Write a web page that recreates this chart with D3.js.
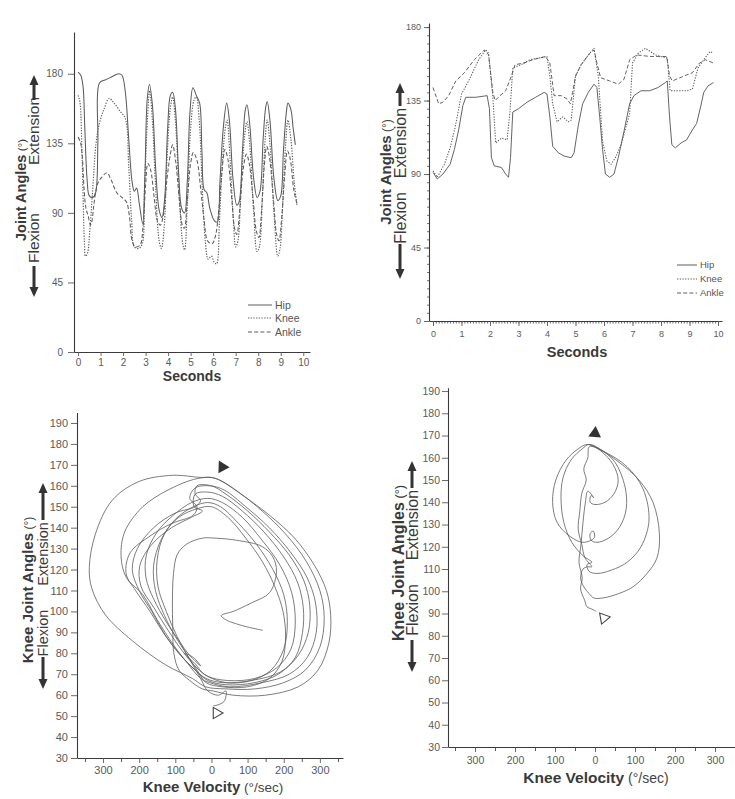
<!DOCTYPE html>
<html>
<head>
<meta charset="utf-8">
<script src="https://cdn.jsdelivr.net/npm/d3@7"></script>
<style>
  body { margin: 0; background: #fff; }
  svg { display: block; }
  text { font-family: "Liberation Sans", Arial, Helvetica, sans-serif; }
</style>
</head>
<body>
<svg id="fig" width="735" height="799"></svg>
<script>
// ---------- tick labels ----------
const secondTicks = [0, 1, 2, 3, 4, 5, 6, 7, 8, 9, 10];
const angleTicks = [0, 45, 90, 135, 180];
const kneeAngleTicks = [30, 40, 50, 60, 70, 80, 90, 100, 110, 120, 130, 140, 150, 160, 170, 180, 190];
const velocityTicks = [-300, -200, -100, 0, 100, 200, 300];
const velocityMinorTicks = [-350, -250, -150, -50, 50, 150, 250, 350];
const legendLabels = ["Hip", "Knee", "Ankle"];

// ---------- joint angles over time, left trial: [seconds, degrees] ----------
const leftHip = [
  [0,181],[0.12,179],[0.22,172],[0.3,145],[0.4,112],[0.5,101],[0.65,100],[0.78,103],[0.88,135],[0.95,174],
  [1.2,176],[1.5,178],[1.8,180],[1.95,179],[2.1,168],[2.25,138],[2.4,110],[2.5,104],[2.6,106],[2.72,96],
  [2.87,83],[2.97,115],[3.07,163],[3.17,173],[3.3,160],[3.45,118],[3.6,92],[3.73,87],[3.85,100],[3.98,145],
  [4.1,166],[4.2,168],[4.32,158],[4.47,115],[4.6,93],[4.73,90],[4.85,110],[4.97,155],[5.1,171],[5.25,166],
  [5.4,161],[5.5,130],[5.6,105],[5.72,103],[5.85,93],[6.05,85],[6.18,84],[6.3,110],[6.45,145],[6.6,161],
  [6.72,150],[6.88,112],[7.05,95],[7.15,97],[7.3,130],[7.42,156],[7.5,160],[7.62,148],[7.8,112],[7.95,100],
  [8.08,104],[8.22,138],[8.33,158],[8.4,162],[8.52,150],[8.7,112],[8.87,98],[9.0,101],[9.12,130],[9.25,155],
  [9.32,161],[9.45,157],[9.55,145],[9.65,134]
];
const leftKnee = [
  [0,166],[0.08,162],[0.18,125],[0.28,72],[0.33,62],[0.42,64],[0.52,78],[0.65,105],[0.8,135],[0.95,148],
  [1.15,157],[1.38,164],[1.6,161],[1.85,156],[2.1,151],[2.25,120],[2.38,85],[2.5,68],[2.7,67],[2.85,70],
  [2.95,105],[3.08,150],[3.18,169],[3.3,150],[3.45,105],[3.6,72],[3.7,67],[3.82,80],[3.95,125],[4.1,158],
  [4.2,165],[4.32,150],[4.5,100],[4.65,70],[4.73,66],[4.85,95],[5.0,145],[5.15,163],[5.25,165],[5.38,150],
  [5.52,105],[5.65,72],[5.78,60],[5.92,62],[6.05,58],[6.15,57],[6.28,85],[6.42,125],[6.55,146],[6.62,150],
  [6.75,125],[6.9,85],[7.0,68],[7.1,72],[7.25,110],[7.4,140],[7.5,149],[7.62,135],[7.8,90],[7.95,65],
  [8.05,68],[8.2,105],[8.32,140],[8.4,150],[8.52,135],[8.7,90],[8.87,62],[8.97,67],[9.1,100],[9.22,135],
  [9.32,150],[9.45,138],[9.6,110],[9.72,95]
];
const leftAnkle = [
  [0,139],[0.1,136],[0.18,128],[0.27,105],[0.35,93],[0.45,88],[0.55,82],[0.62,85],[0.7,95],[0.8,105],
  [0.9,110],[1.05,113],[1.28,116],[1.45,112],[1.72,103],[1.95,100],[2.15,97],[2.28,88],[2.4,72],[2.55,68],
  [2.75,69],[2.88,80],[3.0,108],[3.1,122],[3.22,118],[3.38,100],[3.52,85],[3.65,82],[3.78,88],[3.95,112],
  [4.1,128],[4.2,134],[4.33,124],[4.5,98],[4.63,82],[4.72,80],[4.85,98],[5.0,122],[5.12,129],[5.28,124],
  [5.45,105],[5.6,85],[5.75,72],[5.95,70],[6.1,75],[6.25,92],[6.4,118],[6.52,131],[6.65,125],[6.82,100],
  [6.95,80],[7.05,76],[7.18,92],[7.33,118],[7.48,128],[7.6,122],[7.78,98],[7.92,78],[8.03,74],[8.15,92],
  [8.28,122],[8.38,133],[8.5,126],[8.68,98],[8.82,76],[8.92,72],[9.05,88],[9.18,115],[9.3,130],[9.42,125],
  [9.58,105],[9.72,96]
];

// ---------- joint angles over time, right trial: [seconds, degrees] ----------
const rightHip = [
  [0,91],[0.15,87],[0.35,90],[0.6,96],[0.75,105],[0.9,117],[1.05,132],[1.15,137],[1.5,137],[1.9,138],
  [1.98,130],[2.05,100],[2.15,95],[2.4,94],[2.55,90],[2.65,88],[2.72,100],[2.8,128],[3.0,130],[3.3,134],
  [3.6,137],[3.9,140],[4.0,139],[4.1,125],[4.2,107],[4.4,103],[4.6,101],[4.85,100],[4.95,103],[5.1,120],
  [5.25,133],[5.45,140],[5.65,145],[5.75,143],[5.85,125],[5.95,105],[6.05,90],[6.2,88],[6.35,90],[6.5,100],
  [6.7,116],[6.9,133],[7.05,138],[7.3,141],[7.6,141],[7.9,143],[8.15,146],[8.22,147],[8.3,125],[8.38,108],
  [8.5,106],[8.7,109],[8.9,111],[9.1,117],[9.25,121],[9.4,132],[9.5,140],[9.65,144],[9.84,146]
];
const rightKnee = [
  [0,92],[0.15,88],[0.4,96],[0.6,106],[0.77,118],[1.0,139],[1.25,147],[1.6,160],[1.85,166],[1.95,164],
  [2.1,137],[2.2,109],[2.4,112],[2.6,111],[2.7,128],[2.8,155],[3.1,157],[3.4,160],[3.7,161],[4.0,162],
  [4.1,150],[4.2,133],[4.35,122],[4.55,125],[4.75,122],[4.85,123],[5.0,150],[5.2,157],[5.5,164],[5.65,167],
  [5.8,150],[5.95,110],[6.1,98],[6.25,96],[6.4,100],[6.6,108],[6.9,127],[7.0,158],[7.2,164],[7.45,167],
  [7.8,163],[8.0,162],[8.22,161],[8.32,141],[8.6,141],[8.9,141],[9.1,142],[9.3,155],[9.5,160],[9.72,165],
  [9.84,164]
];
const rightAnkle = [
  [0,143],[0.2,133],[0.35,134],[0.55,138],[0.8,147],[1.1,152],[1.45,160],[1.8,166],[1.95,163],[2.1,140],
  [2.18,135],[2.35,138],[2.55,141],[2.75,150],[2.88,157],[3.2,158],[3.5,160],[3.95,162],[4.1,158],[4.25,138],
  [4.5,138],[4.7,136],[4.82,133],[4.9,140],[5.0,150],[5.2,157],[5.5,164],[5.65,166],[5.75,158],[5.88,149],
  [6.2,147],[6.5,145],[6.7,148],[6.9,160],[7.15,163],[7.6,162],[7.9,162],[8.2,162],[8.3,150],[8.4,147],
  [8.8,150],[9.1,152],[9.35,158],[9.55,160],[9.84,158]
];

// ---------- knee phase plane, left trial: [velocity deg/s, knee angle deg] ----------
const leftPhaseStart = [
  [142,91],[90,93],[40,96],[27,98],[60,100],[110,104],[161,109],[180,119],[170,126],[140,131],[69,134],
  [10,135],[-25,135],[-70,132],[-95,127],[-105,118],[-108,105],[-107,92],[-104,80],[-90,72],[-60,67],
  [-25,63],[5,62]
];
const leftPhaseCycle1 = [
  [60,60],[150,60],[240,64],[295,72],[325,85],[330,98],[318,110],[285,122],[230,135],[160,146],[90,155],
  [30,162],[0,164],[-30,164],[-108,165],[-201,162],[-275,153],[-321,137],[-338,121],[-331,111],[-294,98.5],
  [-219,86],[-127,74.5],[-53,68],[-16,64]
];
const leftPhaseCycle2 = [
  [40,63],[120,63],[200,66],[260,72],[300,83],[312,97],[300,110],[262,124],[205,137],[140,148],[75,157],
  [20,163],[-5,164],[-50,163],[-120,158],[-190,150],[-240,138],[-250,126],[-235,116],[-190,108],[-150,96],
  [-105,84],[-65,75],[-30,68],[-5,66]
];
const leftPhaseCycle3 = [
  [50,64],[140,66],[215,70],[265,78],[290,90],[288,104],[265,116],[220,128],[160,140],[95,150],[35,158],
  [-5,160],[-45,159],[-60,154],[-40,150],[-50,146],[-110,142],[-170,136],[-225,128],[-236,118],[-210,110],
  [-170,100],[-130,89],[-90,80],[-45,72],[-15,68]
];
const leftPhaseCycle4 = [
  [30,66],[110,67],[190,71],[240,79],[268,90],[272,103],[255,115],[215,127],[160,138],[100,148],[40,156],
  [0,160],[-40,160],[-45,156],[-30,153],[-45,150],[-100,147],[-160,140],[-205,130],[-219,120],[-200,110],
  [-165,100],[-125,88],[-85,79],[-45,72],[-10,67]
];
const leftPhaseCycle5 = [
  [40,65],[120,66],[185,70],[232,78],[252,90],[254,102],[238,114],[200,126],[145,138],[85,148],[30,155],
  [-10,157],[-45,156],[-48,150],[-25,148],[-55,145],[-110,140],[-165,132],[-198,122],[-195,112],[-160,102],
  [-120,91],[-80,81],[-40,73],[-10,69]
];
const leftPhaseCycle6 = [
  [45,67],[120,68],[180,73],[220,82],[232,95],[222,109],[190,122],[140,134],[85,145],[30,152],[-10,154],
  [-55,152],[-105,146],[-150,138],[-180,127],[-181,116],[-160,106],[-125,95],[-90,86],[-60,79],[-30,74],
  [-50,78],[-75,80],[-45,75],[-20,70]
];
const leftPhaseCycle7 = [
  [40,66],[110,67],[165,72],[200,82],[210,95],[200,108],[170,120],[125,132],[75,142],[25,150],[-10,152],
  [-50,150],[-100,144],[-140,134],[-160,122],[-155,110],[-130,98],[-100,88],[-70,80],[-40,72],[-15,66]
];
const leftPhaseCycle8 = [
  [30,64],[100,64],[160,68],[195,76],[205,88],[198,100],[175,112],[140,124],[95,135],[45,145],[0,150],
  [-40,149],[-90,145],[-130,137],[-150,125],[-148,112],[-125,100],[-95,88],[-60,77],[-30,68],[-10,62],
  [20,60],[40,62],[35,57],[10,55],[5,55]
];
const leftPhaseStartMark = [30, 169];
const leftPhaseEndMark = [14, 51.5];

// ---------- knee phase plane, right trial: [velocity deg/s, knee angle deg] ----------
const rightPhaseOuter = [
  [-15,166],[10,164],[60,158],[110,150],[145,140],[161,126],[155,115],[130,108],[95,102],[60,99],[20,97],[-3,97],
  [-15,99],[-28,102],[-36,106],[-30,110],[-18,111],[-8,111]
];
const rightPhaseRise = [
  [-25,115],[-33,121],[-42,128],[-38,136],[-33,144],[-22,150],[-28,155],[-18,160],[-14,165]
];
const rightPhaseArc3 = [
  [20,163],[80,156],[120,146],[135,132],[115,120],[80,113],[41,109.5],[5,108],[-15,109],[-20,112],[-8,113],
  [-30,116],[-58,122],[-78,131],[-85,142],[-80,151],[-60,159],[-32,164],[-15,166]
];
const rightPhaseArc2 = [
  [12,164],[50,158],[75,147],[78,137],[62,129],[35,124],[5,122],[-10,123],[-12,126],[-4,127],[-2,124],
  [-30,122],[-65,125],[-95,131],[-106,140],[-98,150],[-72,159],[-42,164],[-18,166]
];
const rightPhaseArc1 = [
  [15,163],[45,157],[58,150],[48,144],[25,140],[0,139],[-12,140],[-10,143],[-3,142],
  [-18,145],[-24,140],[-30,131],[-35,121],[-40,113],[-32,106],[-36,101],[-26,96],[-20,93],[-8,92],[3,91]
];
const rightPhaseStartMark = [0, 171];
const rightPhaseEndMark = [22, 88];

// ---------- drawing ----------
const svg = d3.select("#fig");
const INK = "#3a3a3a";
const TICK_INK = "#5a5a5a";
const TRACE = "#5c5c5c";

const seriesStyle = {
  Hip:   { dash: null,        width: 1.0 },
  Knee:  { dash: "1.3,1.4",   width: 1.1 },
  Ankle: { dash: "4,2.2",     width: 1.0 }
};

function styleAxis(g, fontSize) {
  g.select(".domain").attr("stroke", INK).attr("stroke-width", 1.1);
  g.selectAll(".tick line").attr("stroke", TICK_INK).attr("stroke-width", 0.9);
  g.selectAll(".tick text").attr("fill", TICK_INK).attr("font-size", fontSize)
    .attr("font-family", "'Liberation Sans', Arial, sans-serif");
}

function arrow(g, x, yFrom, yTip) {
  const dir = yTip < yFrom ? -1 : 1;
  const headLen = 10, headHalf = 4.5;
  g.append("line")
    .attr("x1", x).attr("x2", x)
    .attr("y1", yFrom).attr("y2", yTip - dir * headLen + dir)
    .attr("stroke", "#333").attr("stroke-width", 3);
  g.append("path")
    .attr("d", `M${x - headHalf},${yTip - dir * headLen} L${x + headHalf},${yTip - dir * headLen} L${x},${yTip} Z`)
    .attr("fill", "#333");
}

function verticalText(g, x, y, parts, size) {
  const t = g.append("text")
    .attr("transform", `translate(${x},${y}) rotate(-90)`)
    .attr("text-anchor", "middle")
    .attr("dy", "0.35em")
    .attr("font-size", size)
    .attr("fill", INK);
  parts.forEach(p => {
    t.append("tspan").text(p.text)
      .attr("font-weight", p.bold ? "bold" : "normal")
      .attr("font-size", p.size || size);
  });
  return t;
}

function angleTitle(g, o) {
  verticalText(g, o.titleX, o.titleY, [
    { text: o.title, bold: true },
    { text: " (°)", bold: false, size: o.titleSize * 0.8 }
  ], o.titleSize);
  verticalText(g, o.dirX, o.extY, [{ text: "Extension" }], o.dirSize);
  verticalText(g, o.dirX, o.flexY, [{ text: "Flexion" }], o.dirSize);
  arrow(g, o.dirX, o.upFrom, o.upTip);
  arrow(g, o.dirX, o.downFrom, o.downTip);
}

function timePanel(p) {
  const g = svg.append("g");
  const x = d3.scaleLinear().domain(p.tDomain).range(p.xRange);
  const y = d3.scaleLinear().domain(p.vDomain).range(p.yRange);

  if (p.yMinor) {
    g.append("g").attr("transform", `translate(${p.xRange[0]},0)`)
      .call(d3.axisLeft(y).tickValues(d3.range(5, 181, 5)).tickSize(2).tickFormat(""))
      .call(a => { a.select(".domain").remove(); a.selectAll("line").attr("stroke", "#777"); });
  }
  if (p.xMinor) {
    g.append("g").attr("transform", `translate(0,${p.yRange[0]})`)
      .call(d3.axisBottom(x).tickValues(d3.range(0, 100.5, 1).map(d => d / 10)).tickSize(2.5).tickFormat(""))
      .call(a => { a.select(".domain").remove(); a.selectAll("line").attr("stroke", "#666"); });
  }

  g.append("g").attr("transform", `translate(${p.xRange[0]},0)`)
    .call(d3.axisLeft(y).tickValues(angleTicks).tickSize(p.yTick).tickPadding(p.yPad).tickSizeOuter(0))
    .call(a => styleAxis(a, p.tickFont));
  g.append("g").attr("transform", `translate(0,${p.yRange[0]})`)
    .call(d3.axisBottom(x).tickValues(secondTicks).tickSize(p.xTick).tickPadding(p.xPad).tickSizeOuter(0))
    .call(a => styleAxis(a, p.tickFont));

  const line = d3.line().x(d => x(d[0])).y(d => y(d[1])).curve(p.curve);
  p.series.forEach((s, i) => {
    const st = seriesStyle[legendLabels[i]];
    g.append("path").datum(s)
      .attr("d", line)
      .attr("fill", "none")
      .attr("stroke", TRACE)
      .attr("stroke-width", st.width * p.lineScale)
      .attr("stroke-dasharray", st.dash)
      .attr("stroke-linejoin", "round");
  });

  // legend
  legendLabels.forEach((name, i) => {
    const st = seriesStyle[name];
    const ly = p.legend.y[i];
    g.append("line")
      .attr("x1", p.legend.x0).attr("x2", p.legend.x1)
      .attr("y1", ly).attr("y2", ly)
      .attr("stroke", TRACE).attr("stroke-width", st.width)
      .attr("stroke-dasharray", st.dash);
    g.append("text")
      .attr("x", p.legend.x1 + 3).attr("y", ly).attr("dy", "0.35em")
      .attr("font-size", p.legend.font).attr("fill", "#555")
      .text(name);
  });

  g.append("text")
    .attr("x", p.secondsX).attr("y", p.secondsY)
    .attr("text-anchor", "middle")
    .attr("font-weight", "bold").attr("font-size", p.secondsFont)
    .attr("fill", INK).text("Seconds");

  angleTitle(g, p.title);
}

function phasePanel(p) {
  const g = svg.append("g");
  const x = d3.scaleLinear().domain(p.velDomain).range(p.xRange);
  const y = d3.scaleLinear().domain(p.angDomain).range(p.yRange);

  g.append("g").attr("transform", `translate(${p.xRange[0]},0)`)
    .call(d3.axisLeft(y).tickValues(kneeAngleTicks).tickSize(6).tickPadding(p.yPad).tickSizeOuter(0))
    .call(a => styleAxis(a, p.tickFont));
  g.append("g").attr("transform", `translate(0,${p.yRange[0]})`)
    .call(d3.axisBottom(x).tickValues(velocityMinorTicks).tickSize(4).tickFormat(""))
    .call(a => { a.select(".domain").remove(); a.selectAll("line").attr("stroke", TICK_INK); });
  g.append("g").attr("transform", `translate(0,${p.yRange[0]})`)
    .call(d3.axisBottom(x).tickValues(velocityTicks).tickSize(5).tickPadding(p.xPad)
      .tickFormat(d => Math.abs(d)).tickSizeOuter(0))
    .call(a => styleAxis(a, p.tickFont));

  const line = d3.line().x(d => x(d[0])).y(d => y(d[1])).curve(d3.curveCatmullRom.alpha(0.5));
  g.append("path").datum(p.trace)
    .attr("d", line)
    .attr("fill", "none")
    .attr("stroke", TRACE)
    .attr("stroke-width", 0.8)
    .attr("stroke-linejoin", "round");

  const tri = d3.symbol().type(d3.symbolTriangle);
  g.append("path")
    .attr("d", tri.size(p.startSize)())
    .attr("transform", `translate(${x(p.startMark[0])},${y(p.startMark[1])}) rotate(${p.startRot})`)
    .attr("fill", "#333");
  g.append("path")
    .attr("d", tri.size(p.endSize)())
    .attr("transform", `translate(${x(p.endMark[0])},${y(p.endMark[1])}) rotate(${p.endRot})`)
    .attr("fill", "#fff").attr("stroke", "#444").attr("stroke-width", 1.1);

  const xt = g.append("text")
    .attr("x", p.xTitleX).attr("y", p.xTitleY)
    .attr("text-anchor", "middle").attr("fill", INK);
  xt.append("tspan").text("Knee Velocity").attr("font-weight", "bold").attr("font-size", p.xTitleFont);
  xt.append("tspan").text(" (°/sec)").attr("font-size", p.xTitleFont - 1.5).attr("fill", "#444");

  angleTitle(g, p.title);
}

// top left: joint angles, first trial
timePanel({
  tDomain: [-0.18, 10.3], xRange: [74, 310],
  vDomain: [0, 207], yRange: [352, 32],
  series: [leftHip, leftKnee, leftAnkle],
  curve: d3.curveCatmullRom.alpha(0.5),
  lineScale: 1.05,
  yTick: 6, yPad: 5, xTick: 4, xPad: 3, tickFont: 10,
  legend: { x0: 248, x1: 272, y: [305, 318, 332], font: 10.5 },
  secondsX: 192, secondsY: 381, secondsFont: 14,
  title: {
    title: "Joint Angles", titleX: 21, titleY: 190, titleSize: 14.5,
    dirX: 34, extY: 131, flexY: 238, dirSize: 15.5,
    upFrom: 100, upTip: 75, downFrom: 266, downTip: 297
  }
});

// top right: joint angles, second trial
timePanel({
  tDomain: [-0.14, 10.14], xRange: [429, 722],
  vDomain: [0, 182.5], yRange: [321, 23],
  series: [rightHip, rightKnee, rightAnkle],
  curve: d3.curveLinear,
  lineScale: 0.95,
  yMinor: true, xMinor: true,
  yTick: 5, yPad: 3, xTick: 5, xPad: 5, tickFont: 9,
  legend: { x0: 677, x1: 697, y: [265, 279, 293], font: 9.5 },
  secondsX: 577, secondsY: 357, secondsFont: 14.5,
  title: {
    title: "Joint Angles", titleX: 386, titleY: 172, titleSize: 15,
    dirX: 400, extY: 143, flexY: 218, dirSize: 16,
    upFrom: 106, upTip: 83, downFrom: 244, downTip: 279
  }
});

// bottom left: knee angle vs knee velocity, first trial
phasePanel({
  velDomain: [-372, 364], xRange: [77, 343],
  angDomain: [30, 195], yRange: [758, 412.5],
  trace: [].concat(leftPhaseStart, leftPhaseCycle1, leftPhaseCycle2, leftPhaseCycle3, leftPhaseCycle4,
                   leftPhaseCycle5, leftPhaseCycle6, leftPhaseCycle7, leftPhaseCycle8),
  startMark: leftPhaseStartMark, startRot: 92, startSize: 70,
  endMark: leftPhaseEndMark, endRot: 90, endSize: 55,
  yPad: 3, xPad: 3, tickFont: 11,
  xTitleX: 213, xTitleY: 792, xTitleFont: 15,
  title: {
    title: "Knee Joint Angles", titleX: 28, titleY: 590, titleSize: 15,
    dirX: 43, extY: 554, flexY: 633, dirSize: 14.5,
    upFrom: 520, upTip: 483, downFrom: 657, downTip: 689
  }
});

// bottom right: knee angle vs knee velocity, second trial
phasePanel({
  velDomain: [-367.5, 350], xRange: [448, 735],
  angDomain: [30, 191.5], yRange: [747, 387.7],
  trace: [].concat(rightPhaseOuter, rightPhaseRise, rightPhaseArc3, rightPhaseArc2, rightPhaseArc1),
  startMark: rightPhaseStartMark, startRot: 125, startSize: 70,
  endMark: rightPhaseEndMark, endRot: 200, endSize: 55,
  yPad: 2, xPad: 5, tickFont: 10.5,
  xTitleX: 596, xTitleY: 783, xTitleFont: 15.5,
  title: {
    title: "Knee Joint Angles", titleX: 398, titleY: 563, titleSize: 16,
    dirX: 412, extY: 525, flexY: 610, dirSize: 16,
    upFrom: 488, upTip: 461, downFrom: 640, downTip: 672
  }
});
</script>
</body>
</html>
